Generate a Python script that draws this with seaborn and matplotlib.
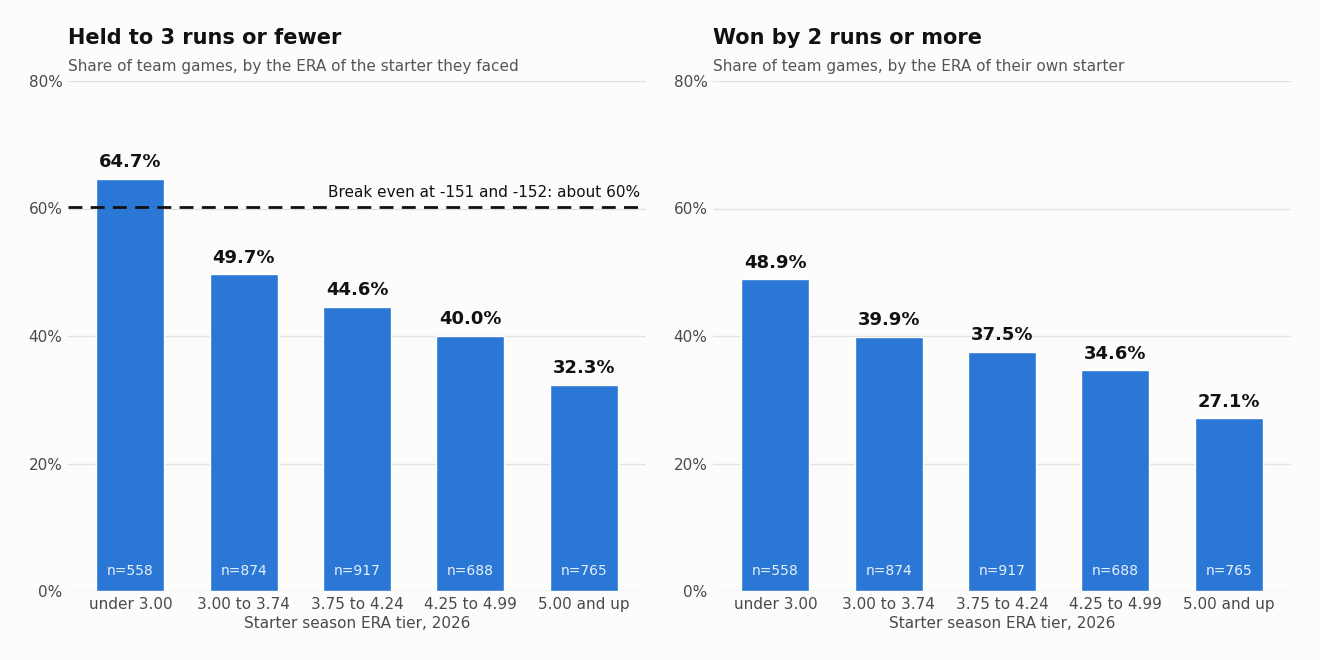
import matplotlib
matplotlib.use("Agg")
import matplotlib.pyplot as plt
import seaborn as sns
import pandas as pd
from matplotlib.ticker import FuncFormatter

tiers = ["under 3.00", "3.00 to 3.74", "3.75 to 4.24", "4.25 to 4.99", "5.00 and up"]
held_pct = [64.7, 49.7, 44.6, 40.0, 32.3]
won_pct = [48.9, 39.9, 37.5, 34.6, 27.1]
n_games = [558, 874, 917, 688, 765]
break_even = 60.2

sns.set_theme(style="white")
plt.rcParams["font.family"] = ["DejaVu Sans"]

BG = "#fcfcfa"
BAR = "#2a77d6"

fig = plt.figure(figsize=(13.2, 6.6), dpi=100, facecolor=BG)
ax1 = fig.add_axes([68/1320, 1-591/660, 578/1320, 510/660])
ax2 = fig.add_axes([713/1320, 1-591/660, 578/1320, 510/660])

panels = [
    (ax1, held_pct, "Held to 3 runs or fewer", "Share of team games, by the ERA of the starter they faced"),
    (ax2, won_pct, "Won by 2 runs or more", "Share of team games, by the ERA of their own starter"),
]

for ax, vals, title, sub in panels:
    ax.set_facecolor(BG)
    df = pd.DataFrame({"tier": tiers, "pct": vals, "n": n_games})
    sns.barplot(data=df, x="tier", y="pct", color=BAR, width=0.6, saturation=1, ax=ax, zorder=3)
    ax.set_ylim(0, 80)
    ax.set_xlim(-0.55, 4.55)
    ax.set_yticks([0, 20, 40, 60, 80])
    ax.yaxis.set_major_formatter(FuncFormatter(lambda v, p: f"{v:.0f}%"))
    ax.grid(axis="y", color="#e2e2e2", linewidth=1, zorder=0)
    for s in ax.spines.values():
        s.set_visible(False)
    ax.tick_params(axis="both", colors="#4a4a4a", labelsize=11, length=0, pad=4)
    ax.set_xlabel("Starter season ERA tier, 2026", fontsize=11, color="#4a4a4a", labelpad=3)
    ax.set_ylabel("")
    for i, (v, n) in enumerate(zip(vals, n_games)):
        ax.text(i, v + 1.2, f"{v:.1f}%", ha="center", va="bottom", fontsize=13, fontweight="bold", color="#111111", zorder=5)
        ax.text(i, 3.1, f"n={n}", ha="center", va="center", fontsize=10, color="#e8f0fb", zorder=5)
    ax.text(0, 1.0 + 43/510, title, transform=ax.transAxes, ha="left", va="center", fontsize=15, fontweight="bold", color="#111111")
    ax.text(0, 1.0 + 15/510, sub, transform=ax.transAxes, ha="left", va="center", fontsize=11, color="#555555")

ax1.axhline(break_even, color="#111111", linestyle=(0, (5, 3)), linewidth=2, zorder=4)
ax1.text(4.5, break_even + 1.2, "Break even at -151 and -152: about 60%", ha="right", va="bottom", fontsize=11, color="#111111", zorder=5)

fig.savefig("out.png", dpi=100, facecolor=BG)
